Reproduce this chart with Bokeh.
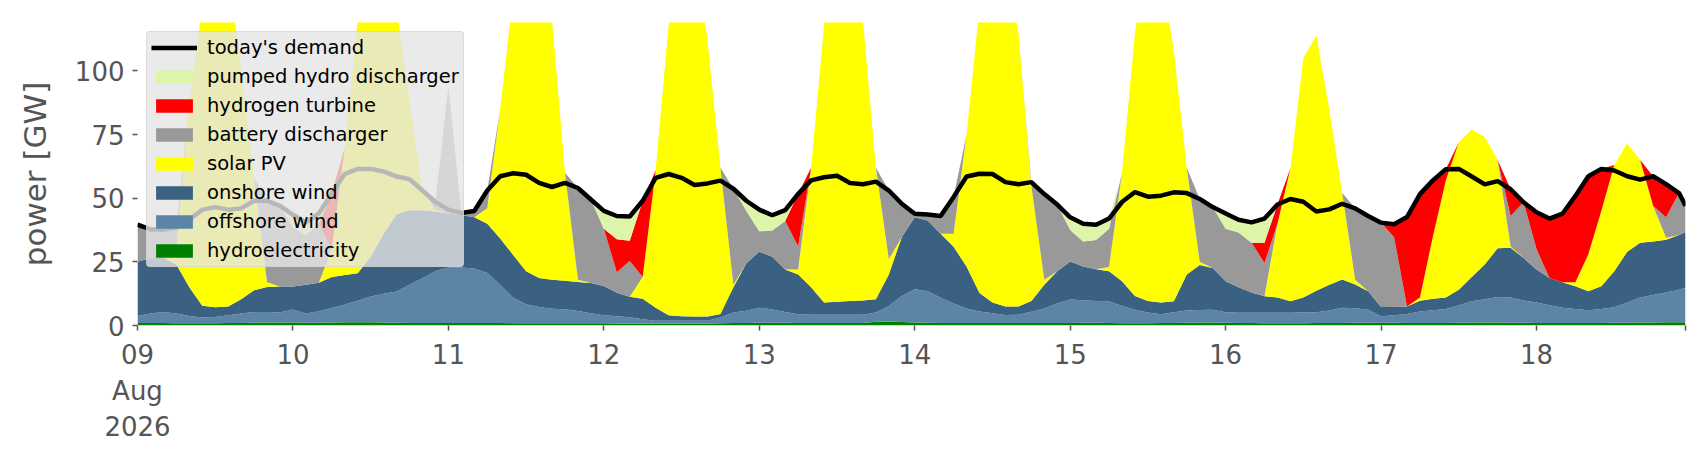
from bokeh.plotting import figure
from bokeh.models import ColumnDataSource, Legend, LegendItem, FixedTicker, Range1d
from bokeh.embed import file_html
from bokeh.resources import INLINE

# time axis: hours since 2026-08-09 00:00 (2-hourly samples, last = 18 Aug 23:00)
hours = list(range(0, 240, 2)) + [239]

# today's demand [GW]
demand = [
    39.6, 37.8, 37.7, 38.5, 41.5, 45.5, 46.5, 45.5, 46.0, 49.0, 49.0, 47.0,   # 09
    43.5, 40.5, 44.0, 52.0, 59.5, 61.5, 61.5, 60.5, 58.5, 57.5, 53.0, 48.5,   # 10
    45.5, 44.2, 45.0, 53.0, 58.6, 59.8, 59.2, 56.0, 54.4, 56.0, 54.0, 49.5,   # 11
    45.0, 43.0, 42.8, 49.0, 58.0, 59.5, 58.0, 55.2, 55.8, 56.9, 53.7, 49.0,   # 12
    45.5, 43.3, 45.3, 51.7, 57.0, 58.2, 58.8, 56.0, 55.5, 56.5, 53.0, 47.8,   # 13
    43.9, 43.6, 43.0, 50.5, 58.5, 59.6, 59.5, 56.3, 55.5, 56.3, 51.6, 47.5,   # 14
    42.5, 40.0, 39.6, 42.0, 48.5, 52.4, 50.6, 51.0, 52.3, 52.0, 49.7, 46.5,   # 15
    44.0, 41.5, 40.5, 42.0, 47.5, 49.7, 48.6, 44.8, 45.6, 47.8, 46.0, 43.0,   # 16
    40.4, 39.8, 42.6, 51.6, 57.0, 61.4, 61.5, 58.5, 55.4, 56.7, 53.5, 48.4,   # 17
    44.5, 42.0, 43.9, 50.9, 58.6, 61.5, 60.9, 58.6, 57.3, 58.6, 55.5, 52.0, 47.0,  # 18
]

hydroelectricity = [
    1.0, 1.0, 1.0, 0.9, 0.9, 0.9, 0.9, 1.0, 1.0, 1.1, 1.2, 1.2,
    1.2, 1.1, 1.1, 1.2, 1.3, 1.3, 1.3, 1.2, 1.1, 1.0, 1.0, 1.0,
    1.0, 1.0, 1.0, 1.0, 1.0, 0.9, 0.9, 0.9, 0.9, 0.9, 0.9, 0.9,
    0.9, 0.8, 0.8, 0.8, 0.8, 0.8, 0.8, 0.8, 0.8, 0.9, 1.0, 1.0,
    1.1, 1.1, 1.1, 1.0, 1.0, 1.0, 1.0, 1.0, 1.0, 1.5, 1.6, 1.4,
    1.2, 1.1, 1.0, 1.0, 1.0, 1.0, 1.0, 1.0, 1.0, 1.0, 1.0, 1.0,
    1.0, 1.1, 1.1, 1.0, 0.9, 0.9, 0.9, 1.0, 1.0, 1.1, 1.2, 1.2,
    1.1, 1.0, 1.0, 0.9, 0.9, 0.9, 0.9, 1.0, 1.0, 1.0, 1.1, 1.1,
    1.1, 1.1, 1.0, 1.0, 1.0, 1.0, 1.1, 1.2, 1.2, 1.2, 1.1, 1.1,
    1.0, 1.0, 1.0, 1.0, 1.0, 1.0, 1.1, 1.1, 1.2, 1.2, 1.3, 1.3, 1.3,
]

offshore_wind = [
    2.7, 3.7, 4.3, 3.8, 2.8, 2.2, 2.4, 3.0, 3.7, 4.2, 4.1, 3.9,
    5.1, 3.6, 4.5, 5.7, 6.9, 8.4, 10.1, 11.3, 12.3, 15.0, 17.6, 20.3,
    21.8, 21.8, 21.4, 19.6, 15.0, 10.0, 7.4, 6.4, 5.7, 5.5, 4.8, 3.9,
    3.1, 2.8, 2.4, 1.7, 1.1, 1.1, 1.1, 1.1, 1.1, 2.2, 4.1, 4.8,
    5.9, 5.2, 4.2, 3.4, 3.2, 3.2, 3.2, 3.2, 3.2, 3.6, 6.1, 10.2,
    13.0, 12.4, 9.9, 7.6, 5.7, 4.5, 3.8, 3.1, 3.2, 4.4, 5.7, 7.7,
    9.2, 8.8, 8.5, 8.5, 6.8, 5.3, 4.2, 3.4, 4.2, 4.8, 4.9, 5.0,
    4.1, 4.0, 4.0, 4.1, 4.1, 4.1, 4.3, 4.2, 4.9, 6.0, 5.7, 5.1,
    2.5, 2.9, 3.5, 4.5, 5.0, 5.5, 6.9, 8.3, 9.1, 10.0, 9.9, 8.7,
    8.0, 7.0, 6.0, 5.5, 5.0, 5.5, 6.1, 7.9, 9.8, 10.8, 11.7, 12.7, 13.5,
]

onshore_wind = [
    21.3, 21.7, 21.3, 19.3, 11.3, 4.7, 3.9, 3.5, 5.6, 8.5, 9.8, 10.2,
    9.0, 11.3, 11.2, 12.1, 11.6, 10.8, 15.6, 23.5, 30.3, 29.3, 26.7, 23.5,
    21.2, 20.6, 20.1, 19.4, 18.2, 16.8, 13.0, 11.4, 11.4, 11.2, 11.4, 11.9,
    11.5, 9.3, 8.1, 8.0, 5.1, 2.1, 1.7, 1.6, 1.6, 1.4, 9.9, 18.6,
    22.0, 20.7, 16.7, 15.6, 10.8, 4.8, 5.1, 5.4, 5.6, 5.2, 12.3, 23.2,
    28.3, 27.7, 25.1, 22.3, 16.5, 7.3, 4.2, 3.4, 3.3, 4.2, 9.3, 12.6,
    14.9, 13.3, 12.5, 11.8, 9.7, 5.4, 4.5, 4.6, 4.3, 14.1, 17.7, 16.4,
    12.2, 10.0, 8.0, 6.5, 6.0, 4.5, 5.8, 8.4, 10.1, 11.1, 9.3, 7.3,
    3.7, 3.3, 3.0, 4.2, 4.5, 4.5, 6.0, 9.5, 13.7, 19.1, 19.5, 16.7,
    13.0, 10.7, 10.0, 8.9, 7.5, 8.9, 14.1, 20.0, 21.5, 21.0, 20.7, 21.5, 21.9,
]

solar_pv = [
    0, 0, 0, 6.0, 73.0, 117.2, 142.8, 132.5, 89.7, 44.2, 1.9, 0,
    0, 0, 0, 11.0, 50.2, 99.5, 123.0, 114.0, 81.3, 42.7, 7.7, 0.7,
    0, 0, 0, 6.0, 50.8, 102.3, 128.7, 131.3, 102.0, 42.4, 0.9, 0,
    0, 0, 0, 8.5, 54.0, 114.0, 141.4, 146.5, 108.5, 57.5, 1.0, 0,
    0, 0, 0, 2.0, 47.0, 109.0, 135.7, 140.4, 110.2, 51.7, 6.0, 0,
    0, 0, 0, 5.1, 51.8, 112.2, 141.0, 137.5, 107.5, 45.4, 2.0, 0,
    0, 0, 0, 1.7, 42.6, 103.4, 135.4, 131.0, 98.5, 42.0, 1.2, 0,
    0, 0, 0, 0, 29.0, 52.3, 94.0, 100.4, 69.0, 33.9, 1.9, 0,
    0, 0, 0, 1.3, 24.5, 46.0, 58.0, 58.0, 50.0, 34.7, 0.5, 0,
    0, 0, 0, 1.6, 14.5, 29.6, 41.7, 42.5, 32.5, 14.0, 0.8, 0, 0,
]

battery_discharger = [
    14.6, 11.4, 11.1, 8.5, 0, 0, 0, 0, 0, 0, 32.0, 31.7,
    23.2, 19.5, 23.2, 0, 0, 0, 0, 0, 0, 0, 0, 3.0,
    50.0, 0.8, 2.5, 7.0, 0, 0, 0, 0, 0, 0, 36.0, 32.8,
    22.5, 8.0, 14.0, 0, 0, 0, 0, 0, 0, 0, 37.7, 20.6,
    8.0, 10.3, 19.0, 9.0, 0, 0, 0, 0, 0, 0, 27.0, 13.0,
    1.4, 2.4, 7.0, 14.5, 0, 0, 0, 0, 0, 1.3, 33.6, 26.2,
    12.4, 9.8, 11.5, 15.0, 0, 0, 0, 0, 0, 0, 24.7, 23.9,
    20.6, 21.5, 19.5, 13.0, 0, 0, 0, 0, 0, 0, 28.0, 29.5,
    33.1, 27.5, 0, 0, 0, 0, 0, 0, 0, 0, 12.0, 21.9,
    8.0, 0, 0, 0, 0, 0, 0, 0, 0, 0, 8.0, 16.5, 10.3,
]

hydrogen_turbine = [
    0, 0, 0, 0, 0, 0, 0, 0, 0, 0, 0, 0,
    0, 0, 0, 22.0, 0, 0, 0, 0, 0, 0, 0, 0,
    0, 0, 0, 0, 0, 0, 0, 0, 0, 0, 0, 0,
    0, 13.0, 8.0, 30.0, 0, 0, 0, 0, 0, 0, 0, 0,
    0, 0, 0, 20.7, 0, 0, 0, 0, 0, 0, 0, 0,
    0, 0, 0, 0, 0, 0, 0, 0, 0, 0, 0, 0,
    0, 0, 0, 0, 0, 0, 0, 0, 0, 0, 0, 0,
    0, 0, 0, 8.0, 7.5, 0, 0, 0, 0, 0, 0, 0,
    0, 5.0, 35.1, 40.6, 22.0, 4.4, 0, 0, 0, 0, 10.5, 0,
    14.5, 23.3, 26.9, 33.9, 30.6, 16.5, 0, 0, 0, 11.6, 13.0, 0, 0,
]

pumped_hydro_discharger = [
    0, 0, 0, 0, 0, 0, 0, 0, 0, 0, 0, 0,
    5.0, 5.0, 4.0, 0, 0, 0, 0, 0, 0, 0, 0, 0,
    0, 0, 0, 0, 0, 0, 0, 0, 0, 0, 0, 0,
    7.0, 9.1, 9.5, 0, 0, 0, 0, 0, 0, 0, 0, 4.0,
    8.5, 6.0, 4.3, 0, 0, 0, 0, 0, 0, 0, 0, 0,
    0, 0, 0, 0, 0, 0, 0, 0, 0, 0, 0, 0,
    5.0, 7.0, 6.0, 4.0, 0, 0, 0, 0, 0, 0, 0, 0,
    6.0, 5.0, 8.0, 9.5, 0, 0, 0, 0, 0, 0, 0, 0,
    0, 0, 0, 0, 0, 0, 0, 0, 0, 0, 0, 0,
    0, 0, 0, 0, 0, 0, 0, 0, 0, 0, 0, 0, 0,
]

day_ticks = [0, 24, 48, 72, 96, 120, 144, 168, 192, 216, 239]
day_labels = ["09\nAug\n2026", "10", "11", "12", "13", "14", "15", "16", "17", "18", ""]
y_ticks = [0, 25, 50, 75, 100]

series = ["hydroelectricity", "offshore wind", "onshore wind", "solar PV",
          "battery discharger", "hydrogen turbine", "pumped hydro discharger"]
colors = ["#008000", "#5c84a6", "#3b6182", "#ffff00", "#999999", "#ff0000", "#dcf5a9"]

source = ColumnDataSource(dict(
    x=hours,
    s0=hydroelectricity, s1=offshore_wind, s2=onshore_wind, s3=solar_pv,
    s4=battery_discharger, s5=hydrogen_turbine, s6=pumped_hydro_discharger,
    demand=demand,
))

FONT = "DejaVu Sans"
p = figure(width=1690, height=444, output_backend="svg", toolbar_location=None,
           x_range=Range1d(0, 239), y_range=Range1d(0, 119),
           min_border_left=137, min_border_right=5, min_border_top=22,
           min_border_bottom=115)
p.background_fill_color = "white"
p.border_fill_color = "white"
p.outline_line_color = None
p.grid.visible = False

areas = p.varea_stack(stackers=["s0", "s1", "s2", "s3", "s4", "s5", "s6"], x="x",
                      color=colors, source=source)
line = p.line("x", "demand", source=source, line_color="black", line_width=4.5)

# axes
for ax in (p.xaxis[0], p.yaxis[0]):
    ax.axis_line_color = None
    ax.major_tick_line_color = "#555555"
    ax.major_tick_line_width = 1.5
    ax.major_tick_in = 0
    ax.major_tick_out = 5
    ax.minor_tick_line_color = None
    ax.major_label_text_font = FONT
    ax.major_label_text_font_size = "26px"
    ax.major_label_text_color = "#555555"

p.xaxis.ticker = FixedTicker(ticks=day_ticks)
p.xaxis.major_label_overrides = {t: l for t, l in zip(day_ticks, day_labels)}
p.xaxis.major_label_standoff = 9
p.xaxis.major_label_text_line_height = 1.2

p.yaxis.ticker = FixedTicker(ticks=y_ticks)
p.yaxis.major_label_standoff = 8
p.yaxis.axis_label = "power [GW]"
p.yaxis.axis_label_text_font = FONT
p.yaxis.axis_label_text_font_size = "31px"
p.yaxis.axis_label_text_font_style = "normal"
p.yaxis.axis_label_text_color = "#555555"
p.yaxis.axis_label_standoff = 19

# legend (reverse stacking order, demand first)
items = [LegendItem(label="today's demand", renderers=[line])]
for name, r in reversed(list(zip(series, areas))):
    items.append(LegendItem(label=name, renderers=[r]))

legend = Legend(items=items, location="top_left")
legend.margin = 9
legend.padding = 4
legend.spacing = 6
legend.glyph_width = 46
legend.glyph_height = 17
legend.label_height = 21
legend.label_standoff = 10
legend.label_text_font = FONT
legend.label_text_font_size = "19.5px"
legend.label_text_color = "black"
legend.background_fill_color = "#e5e5e5"
legend.background_fill_alpha = 0.8
legend.border_line_color = "#cccccc"
legend.border_line_width = 1
try:
    legend.border_radius = 4
except Exception:
    pass
p.add_layout(legend)

open("out.html", "w").write(file_html(p, INLINE))
